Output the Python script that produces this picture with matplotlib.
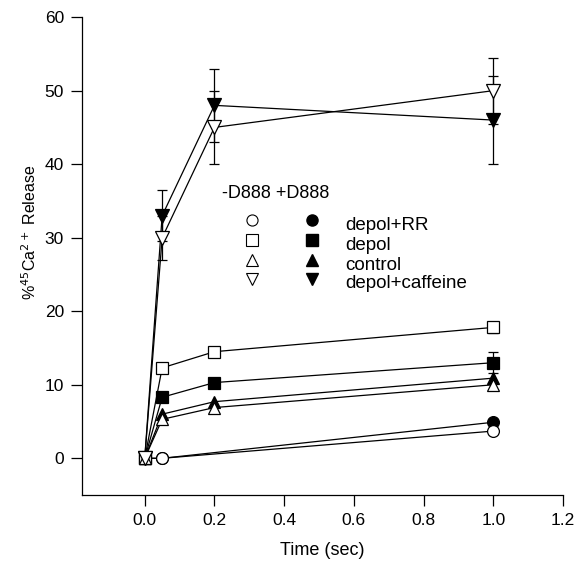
import matplotlib
matplotlib.use("Agg")
import matplotlib.pyplot as plt

plt.rcParams["font.family"] = ["Liberation Sans", "DejaVu Sans"]

# time points (sec)
time = [0.0, 0.05, 0.2, 1.0]

# -D888 (open symbols)
rr_open = [0.0, 0.0, None, 3.7]
depol_open = [0.0, 12.3, 14.5, 17.8]
control_open = [0.0, 5.3, 6.9, 10.0]
caff_open = [0.0, 30.0, 45.0, 50.0]
caff_open_err = [0.0, 3.0, 5.0, 4.5]
depol_open_err = [0.0, 0.0, 0.0, 0.8]

# +D888 (filled symbols)
rr_filled = [0.0, 0.0, None, 4.9]
depol_filled = [0.0, 8.3, 10.3, 13.0]
control_filled = [0.0, 6.0, 7.7, 10.9]
caff_filled = [0.0, 33.0, 48.0, 46.0]
caff_filled_err = [0.0, 3.5, 5.0, 6.0]
depol_filled_err = [0.0, 0.0, 0.0, 1.4]

legend_labels = ["depol+RR", "depol", "control", "depol+caffeine"]
legend_markers = ["o", "s", "^", "v"]

fig = plt.figure(figsize=(5.75, 5.71), dpi=100)
ax = fig.add_axes([0.1426, 0.133, 0.8365, 0.837])


def series(y, marker, filled, err=None, ms=8.5):
    xs = [t for t, v in zip(time, y) if v is not None]
    ys = [v for v in y if v is not None]
    face = "black" if filled else "white"
    if err is not None:
        es = [e for e, v in zip(err, y) if v is not None]
        ax.errorbar(xs, ys, yerr=es, fmt="none", ecolor="black",
                    elinewidth=0.9, capsize=3.5, capthick=0.9, zorder=1)
    ax.plot(xs, ys, color="black", linewidth=0.9, marker=marker,
            markersize=ms, markerfacecolor=face, markeredgecolor="black",
            markeredgewidth=0.9, zorder=3 if not filled else 2)


series(rr_filled, "o", True)
series(rr_open, "o", False)
series(depol_filled, "s", True, depol_filled_err, ms=8)
series(depol_open, "s", False, depol_open_err, ms=8)
series(control_filled, "^", True, ms=9)
series(control_open, "^", False, ms=9)
series(caff_filled, "v", True, caff_filled_err, ms=9.5)
series(caff_open, "v", False, caff_open_err, ms=9.5)

ax.set_xlim(-0.18, 1.2)
ax.set_ylim(-5, 60)
ax.set_xticks([0.0, 0.2, 0.4, 0.6, 0.8, 1.0, 1.2])
ax.set_xticklabels(["0.0", "0.2", "0.4", "0.6", "0.8", "1.0", "1.2"])
ax.set_yticks([0, 10, 20, 30, 40, 50, 60])
ax.spines["top"].set_visible(False)
ax.spines["right"].set_visible(False)
for s in ("left", "bottom"):
    ax.spines[s].set_linewidth(0.9)
ax.tick_params(direction="out", length=8, width=0.9, labelsize=12.5, pad=5)

ax.set_xlabel("Time (sec)", fontsize=13, labelpad=10)
ax.set_ylabel("%$^{45}$Ca$^{2+}$ Release", fontsize=11.5)
ax.yaxis.set_label_coords(-0.09, 0.55)

# legend block (two marker columns: -D888 open, +D888 filled)
ax.text(0.291, 0.632, "-D888 +D888", transform=ax.transAxes,
        fontsize=13, va="center", ha="left")
rows = [0.575, 0.533, 0.491, 0.453]
for lab, mk, yy in zip(legend_labels, legend_markers, rows):
    ax.plot([0.353], [yy], marker=mk, markersize=8, markerfacecolor="white",
            markeredgecolor="black", markeredgewidth=0.8,
            transform=ax.transAxes, clip_on=False)
    ax.plot([0.478], [yy], marker=mk, markersize=8, markerfacecolor="black",
            markeredgecolor="black", transform=ax.transAxes, clip_on=False)
    ax.text(0.547, yy - 0.01, lab, transform=ax.transAxes,
            fontsize=13.5, va="center", ha="left")

fig.savefig("out.png", dpi=100)
